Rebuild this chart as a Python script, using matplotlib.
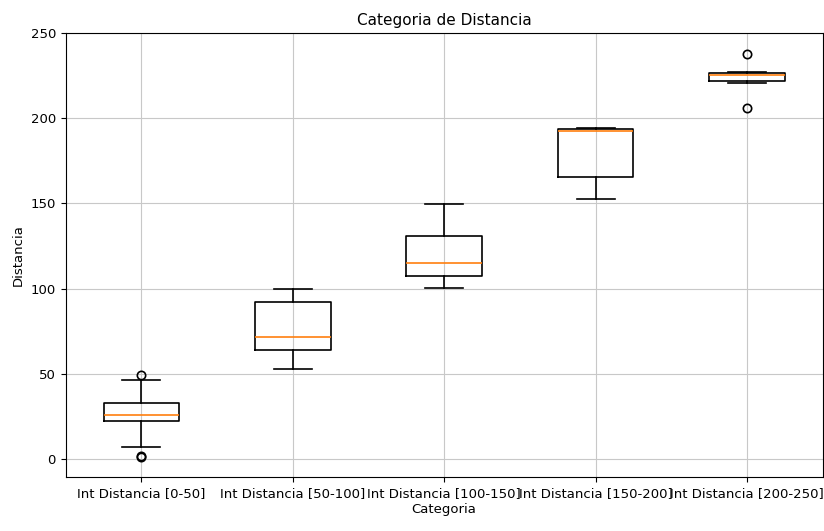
import matplotlib
matplotlib.use("Agg")
import matplotlib.pyplot as plt

categories = ["Int Distancia [0-50]", "Int Distancia [50-100]", "Int Distancia [100-150]",
              "Int Distancia [150-200]", "Int Distancia [200-250]"]
whisker_low = [6.8, 52.8, 100.5, 152.6, 220.8]
q1 = [22.1, 64.0, 107.4, 165.5, 222.0]
median = [25.6, 71.6, 115.2, 192.5, 225.7]
q3 = [32.6, 91.9, 130.9, 193.7, 226.7]
whisker_high = [46.5, 99.5, 149.8, 194.6, 227.1]
fliers = [[49.3, 1.0, 1.6], [], [], [], [238.0, 206.3]]

stats = []
for i, name in enumerate(categories):
    stats.append({
        "label": name,
        "whislo": whisker_low[i],
        "q1": q1[i],
        "med": median[i],
        "q3": q3[i],
        "whishi": whisker_high[i],
        "fliers": fliers[i],
    })

fig = plt.figure(figsize=(8.24, 5.31), dpi=100)
ax = fig.add_axes([0.0797, 0.1011, 0.9187, 0.8362])
lw = 1.2
ax.bxp(stats,
       boxprops=dict(linewidth=lw),
       whiskerprops=dict(linewidth=lw),
       capprops=dict(linewidth=lw),
       medianprops=dict(linewidth=lw, color="#ff7f0e"),
       flierprops=dict(markeredgewidth=lw))
ax.set_ylim(-10.9, 250)
ax.set_title("Categoria de Distancia", fontsize=11)
ax.set_xlabel("Categoria", fontsize=9.5, labelpad=2)
ax.set_ylabel("Distancia", fontsize=9.5)
ax.tick_params(labelsize=9.5)
ax.grid(True, color="#c8c8c8")
fig.savefig("out.png")
